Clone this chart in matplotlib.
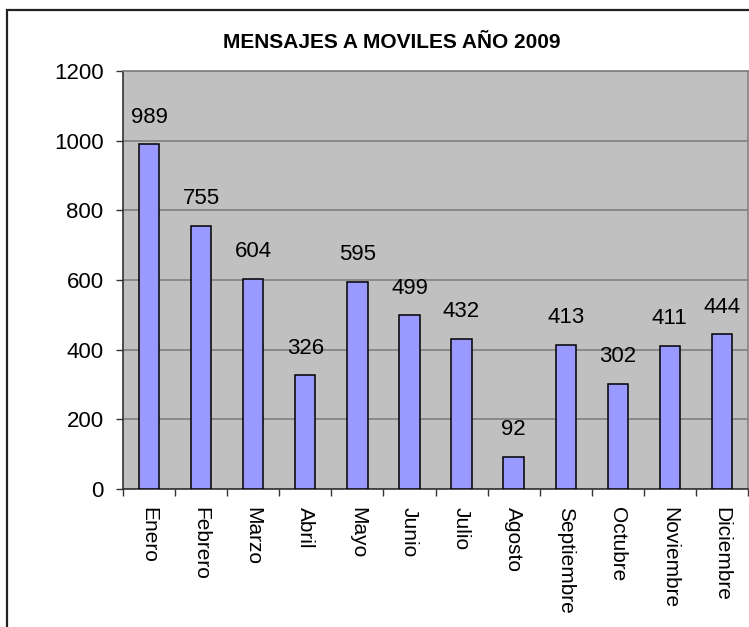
import matplotlib.pyplot as plt
from matplotlib.patches import Rectangle
import numpy as np

plt.rcParams['font.family'] = ['Liberation Sans', 'DejaVu Sans']

meses = ["Enero", "Febrero", "Marzo", "Abril", "Mayo", "Junio", "Julio",
         "Agosto", "Septiembre", "Octubre", "Noviembre", "Diciembre"]
mensajes = [989, 755, 604, 326, 595, 499, 432, 92, 413, 302, 411, 444]
yticks = [0, 200, 400, 600, 800, 1000, 1200]

fig = plt.figure(figsize=(7.49, 6.27), dpi=100)
ax = fig.add_axes([123/749, 138/627, 625/749, 418/627])
ax.set_facecolor("#C0C0C0")

x = np.arange(len(meses))
bars = ax.bar(x, mensajes, width=0.39, color="#9999FF", edgecolor="black",
              linewidth=1.1, zorder=3)

for xi, v in zip(x, mensajes):
    ax.annotate(str(v), (xi, v), xytext=(0, 12), textcoords="offset points",
                ha="center", va="bottom", fontsize=16, zorder=4)

ax.set_xlim(-0.5, len(meses) - 0.5)
ax.set_ylim(0, 1200)
ax.set_yticks(yticks)
ax.tick_params(axis="y", labelsize=16, length=5, width=1, color="#333333", pad=9)
ax.yaxis.grid(True, color="#808080", linewidth=1.2, zorder=1)
ax.set_axisbelow(True)

# ticks between categories, labels at centers
ax.set_xticks(np.arange(len(meses) + 1) - 0.5)
ax.set_xticklabels([])
ax.set_xticks(x, minor=True)
ax.set_xticklabels(meses, minor=True, rotation=270, fontsize=15, va="top", ha="center")
ax.tick_params(axis="x", which="major", length=5, width=1, color="#333333")
ax.tick_params(axis="x", which="minor", length=0, pad=13)

for s in ["top", "right"]:
    ax.spines[s].set_color("#808080")
    ax.spines[s].set_linewidth(1.2)
for s in ["left", "bottom"]:
    ax.spines[s].set_color("#333333")
    ax.spines[s].set_linewidth(1.2)

fig.text(392/749, 1 - 43/627, "MENSAJES A MOVILES AÑO 2009", ha="center",
         va="center", fontsize=15, fontweight="bold")

# outer chart border
fig.patches.append(Rectangle((7/749, -0.05), 1.1, 1 - 10/627 + 0.05,
                             transform=fig.transFigure, fill=False,
                             edgecolor="#222222", linewidth=1.6))

fig.savefig("out.png", dpi=100)
